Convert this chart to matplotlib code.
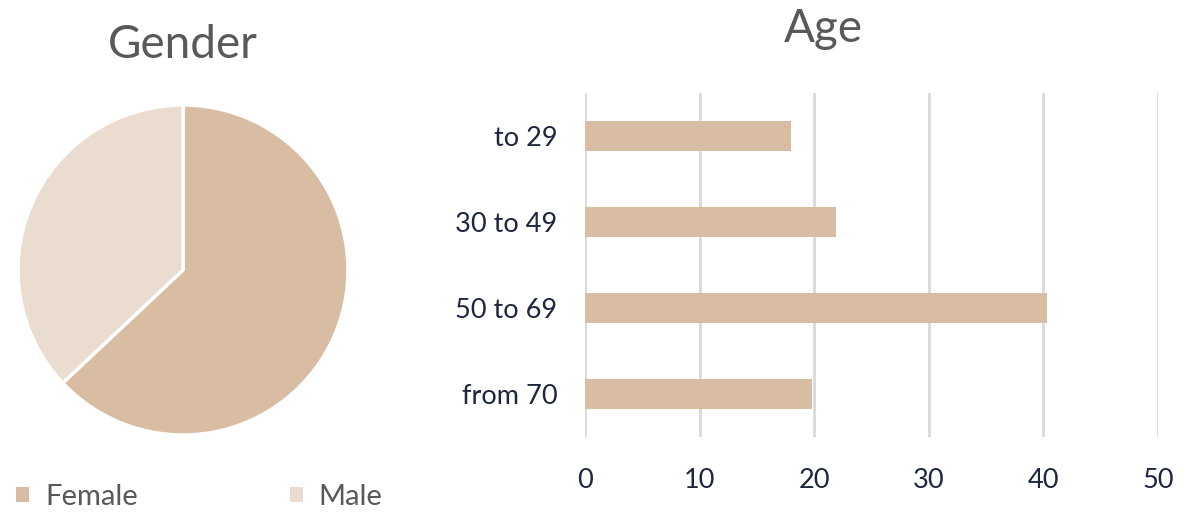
import numpy as np
import matplotlib.pyplot as plt
from matplotlib.patches import Patch

# data
gender_labels = ['Female', 'Male']
gender_values = [63, 37]
age_groups = ['to 29', '30 to 49', '50 to 69', 'from 70']
age_values = [18.0, 21.9, 40.3, 19.8]
age_ticks = [0, 10, 20, 30, 40, 50]

col_female = '#D9BDA3'
col_male = '#EADCCF'
col_title = '#595959'
col_tick = '#1E2640'
col_grid = '#D9D9D9'

plt.rcParams['font.family'] = ['Lato', 'DejaVu Sans']

W, H = 1203, 513
fig = plt.figure(figsize=(W / 100, H / 100), dpi=100)

def px_axes(x0, y0, x1, y1):
	# pixel box (top-left origin) -> figure fraction axes
	return fig.add_axes([x0 / W, 1 - y1 / H, (x1 - x0) / W, (y1 - y0) / H])

######### PIE #########

ax1 = px_axes(18, 105, 348, 435)
wedges, _ = ax1.pie(gender_values, colors=[col_female, col_male], startangle=90,
	counterclock=False, radius=1,
	wedgeprops={'edgecolor': 'white', 'linewidth': 2.5})
ax1.set_xlim(-1.0, 1.0)
ax1.set_ylim(-1.0, 1.0)
ax1.set_aspect('equal')
fig.text(183 / W, 1 - 45 / H, 'Gender', ha='center', va='center', fontsize=33, color=col_title)

handles = [Patch(facecolor=c, edgecolor='none') for c in [col_female, col_male]]
fig.legend(handles, gender_labels, loc='center left', bbox_to_anchor=(16 / W, 1 - 497 / H),
	ncol=2, frameon=False, fontsize=21, labelcolor=col_title, borderpad=0, borderaxespad=0,
	handlelength=0.45, handleheight=0.45, handletextpad=0.55, columnspacing=5.2)

######### BARS #########

ax2 = px_axes(585, 93, 1158, 437)
y = np.arange(len(age_groups))
ax2.barh(y, age_values, height=0.35, color=col_female, zorder=3)
ax2.set_xlim(0, 50)
ax2.set_ylim(len(age_groups) - 0.5, -0.5)
ax2.set_xticks(age_ticks)
ax2.set_yticks(y)
ax2.set_yticklabels(age_groups)
ax2.xaxis.grid(True, color=col_grid, linewidth=2, zorder=0)
for s in ax2.spines.values():
	s.set_visible(False)
ax2.tick_params(axis='both', length=0, labelsize=19.5, colors=col_tick)
ax2.tick_params(axis='x', pad=22)
ax2.tick_params(axis='y', pad=20)
fig.text(823 / W, 1 - 29 / H, 'Age', ha='center', va='center', fontsize=33, color=col_title)

plt.savefig('out.png', dpi=100)
